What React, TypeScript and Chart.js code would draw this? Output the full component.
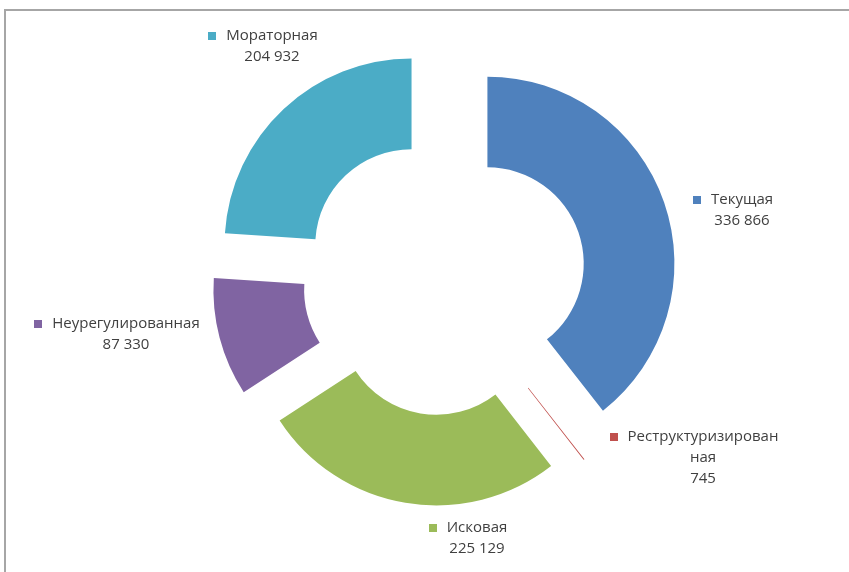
import React, { useEffect, useRef } from "react";
import { Chart, registerables, ArcElement } from "chart.js";

Chart.register(...registerables);

// ---- data ----
const categories: string[] = [
  "Текущая",
  "Реструктуризированная",
  "Исковая",
  "Неурегулированная",
  "Мораторная",
];
const values: number[] = [336866, 745, 225129, 87330, 204932];
const colors: string[] = ["#4F81BD", "#C0504D", "#9BBB59", "#8064A2", "#4BACC6"];

// ---- style ----
const explodeDistance: number[] = [47, 42, 40, 44, 46];
// label text centre relative to the doughnut centre
const labelOffsets: [number, number][] = [
  [299, -79],
  [260, 158],
  [34, 249],
  [-317, 45],
  [-171, -243],
];
const WRAP_CHARS = 18;
const FONT = '15px "Open Sans", "Noto Sans", sans-serif';
const LINE_H = 21;
const SQ = 8;
const GAP = 10;

// Explode each slice by a straight translation along its mid-angle.
const arcProto = ArcElement.prototype as any;
if (!arcProto.__explodePatched) {
  const baseDraw = arcProto.draw;
  arcProto.draw = function (ctx: CanvasRenderingContext2D) {
    const opts = this.options;
    const d = (opts && opts.offset) || 0;
    if (!d) {
      baseDraw.call(this, ctx);
      return;
    }
    const half = (this.startAngle + this.endAngle) / 2;
    ctx.save();
    ctx.translate(Math.cos(half) * d, Math.sin(half) * d);
    this.options = Object.assign({}, opts, { offset: 0 });
    try {
      baseDraw.call(this, ctx);
    } finally {
      this.options = opts;
    }
    ctx.restore();
  };
  arcProto.__explodePatched = true;
}

function wrap(s: string): string[] {
  const out: string[] = [];
  for (let i = 0; i < s.length; i += WRAP_CHARS) out.push(s.slice(i, i + WRAP_CHARS));
  return out;
}

function fmt(v: number): string {
  return String(v).replace(/\B(?=(\d{3})+(?!\d))/g, " ");
}

const labelPlugin = {
  id: "sliceLabels",
  afterDatasetsDraw(chart: any) {
    const ctx: CanvasRenderingContext2D = chart.ctx;
    const meta = chart.getDatasetMeta(0);
    if (!meta.data.length) return;
    const cx = meta.data[0].x;
    const cy = meta.data[0].y;
    ctx.save();
    ctx.font = FONT;
    ctx.textBaseline = "middle";
    meta.data.forEach((_arc: any, i: number) => {
      const [dx, dy] = labelOffsets[i];
      const tx = cx + dx;
      const ty = cy + dy;
      const lines = wrap(categories[i]);
      const w0 = ctx.measureText(lines[0]).width;
      const textLeft = tx - w0 / 2;
      ctx.fillStyle = colors[i];
      ctx.fillRect(Math.round(textLeft - GAP - SQ), Math.round(ty - SQ / 2), SQ, SQ);
      ctx.fillStyle = "#404040";
      ctx.textAlign = "center";
      ctx.fillText(lines[0], tx, ty);
      let y = ty;
      for (let k = 1; k < lines.length; k++) {
        y += LINE_H;
        ctx.fillText(lines[k], tx, y);
      }
      y += LINE_H;
      ctx.fillText(fmt(values[i]), tx, y);
    });
    ctx.restore();
  },
};

export default function App() {
  const ref = useRef<HTMLCanvasElement | null>(null);

  useEffect(() => {
    if (!ref.current) return;
    const chart = new Chart(ref.current, {
      type: "doughnut",
      data: {
        labels: categories,
        datasets: [
          {
            data: values,
            backgroundColor: colors,
            borderWidth: 0,
            offset: explodeDistance,
            clip: false,
          } as any,
        ],
      },
      options: {
        responsive: false,
        animation: false,
        events: [],
        radius: 187,
        cutout: "51.5%",
        layout: { padding: { left: 37, right: 0, top: 0, bottom: 14 } },
        plugins: {
          legend: { display: false },
          tooltip: { enabled: false },
        },
      } as any,
      plugins: [labelPlugin],
    });
    if ((document as any).fonts && (document as any).fonts.load) {
      (document as any).fonts.load(FONT).then(() => chart.update()).catch(() => {});
    }
    return () => chart.destroy();
  }, []);

  return (
    <div
      style={{
        position: "fixed",
        left: 0,
        top: 0,
        width: 849,
        height: 572,
        background: "#ffffff",
        overflow: "hidden",
      }}
    >
      <div
        style={{
          position: "absolute",
          left: 4,
          top: 9,
          width: 860,
          height: 580,
          borderTop: "2px solid #a6a6a6",
          borderLeft: "2px solid #a6a6a6",
          boxSizing: "border-box",
        }}
      />
      <canvas
        ref={ref}
        width={849}
        height={572}
        style={{ position: "absolute", left: 0, top: 0, width: 849, height: 572 }}
      />
    </div>
  );
}
